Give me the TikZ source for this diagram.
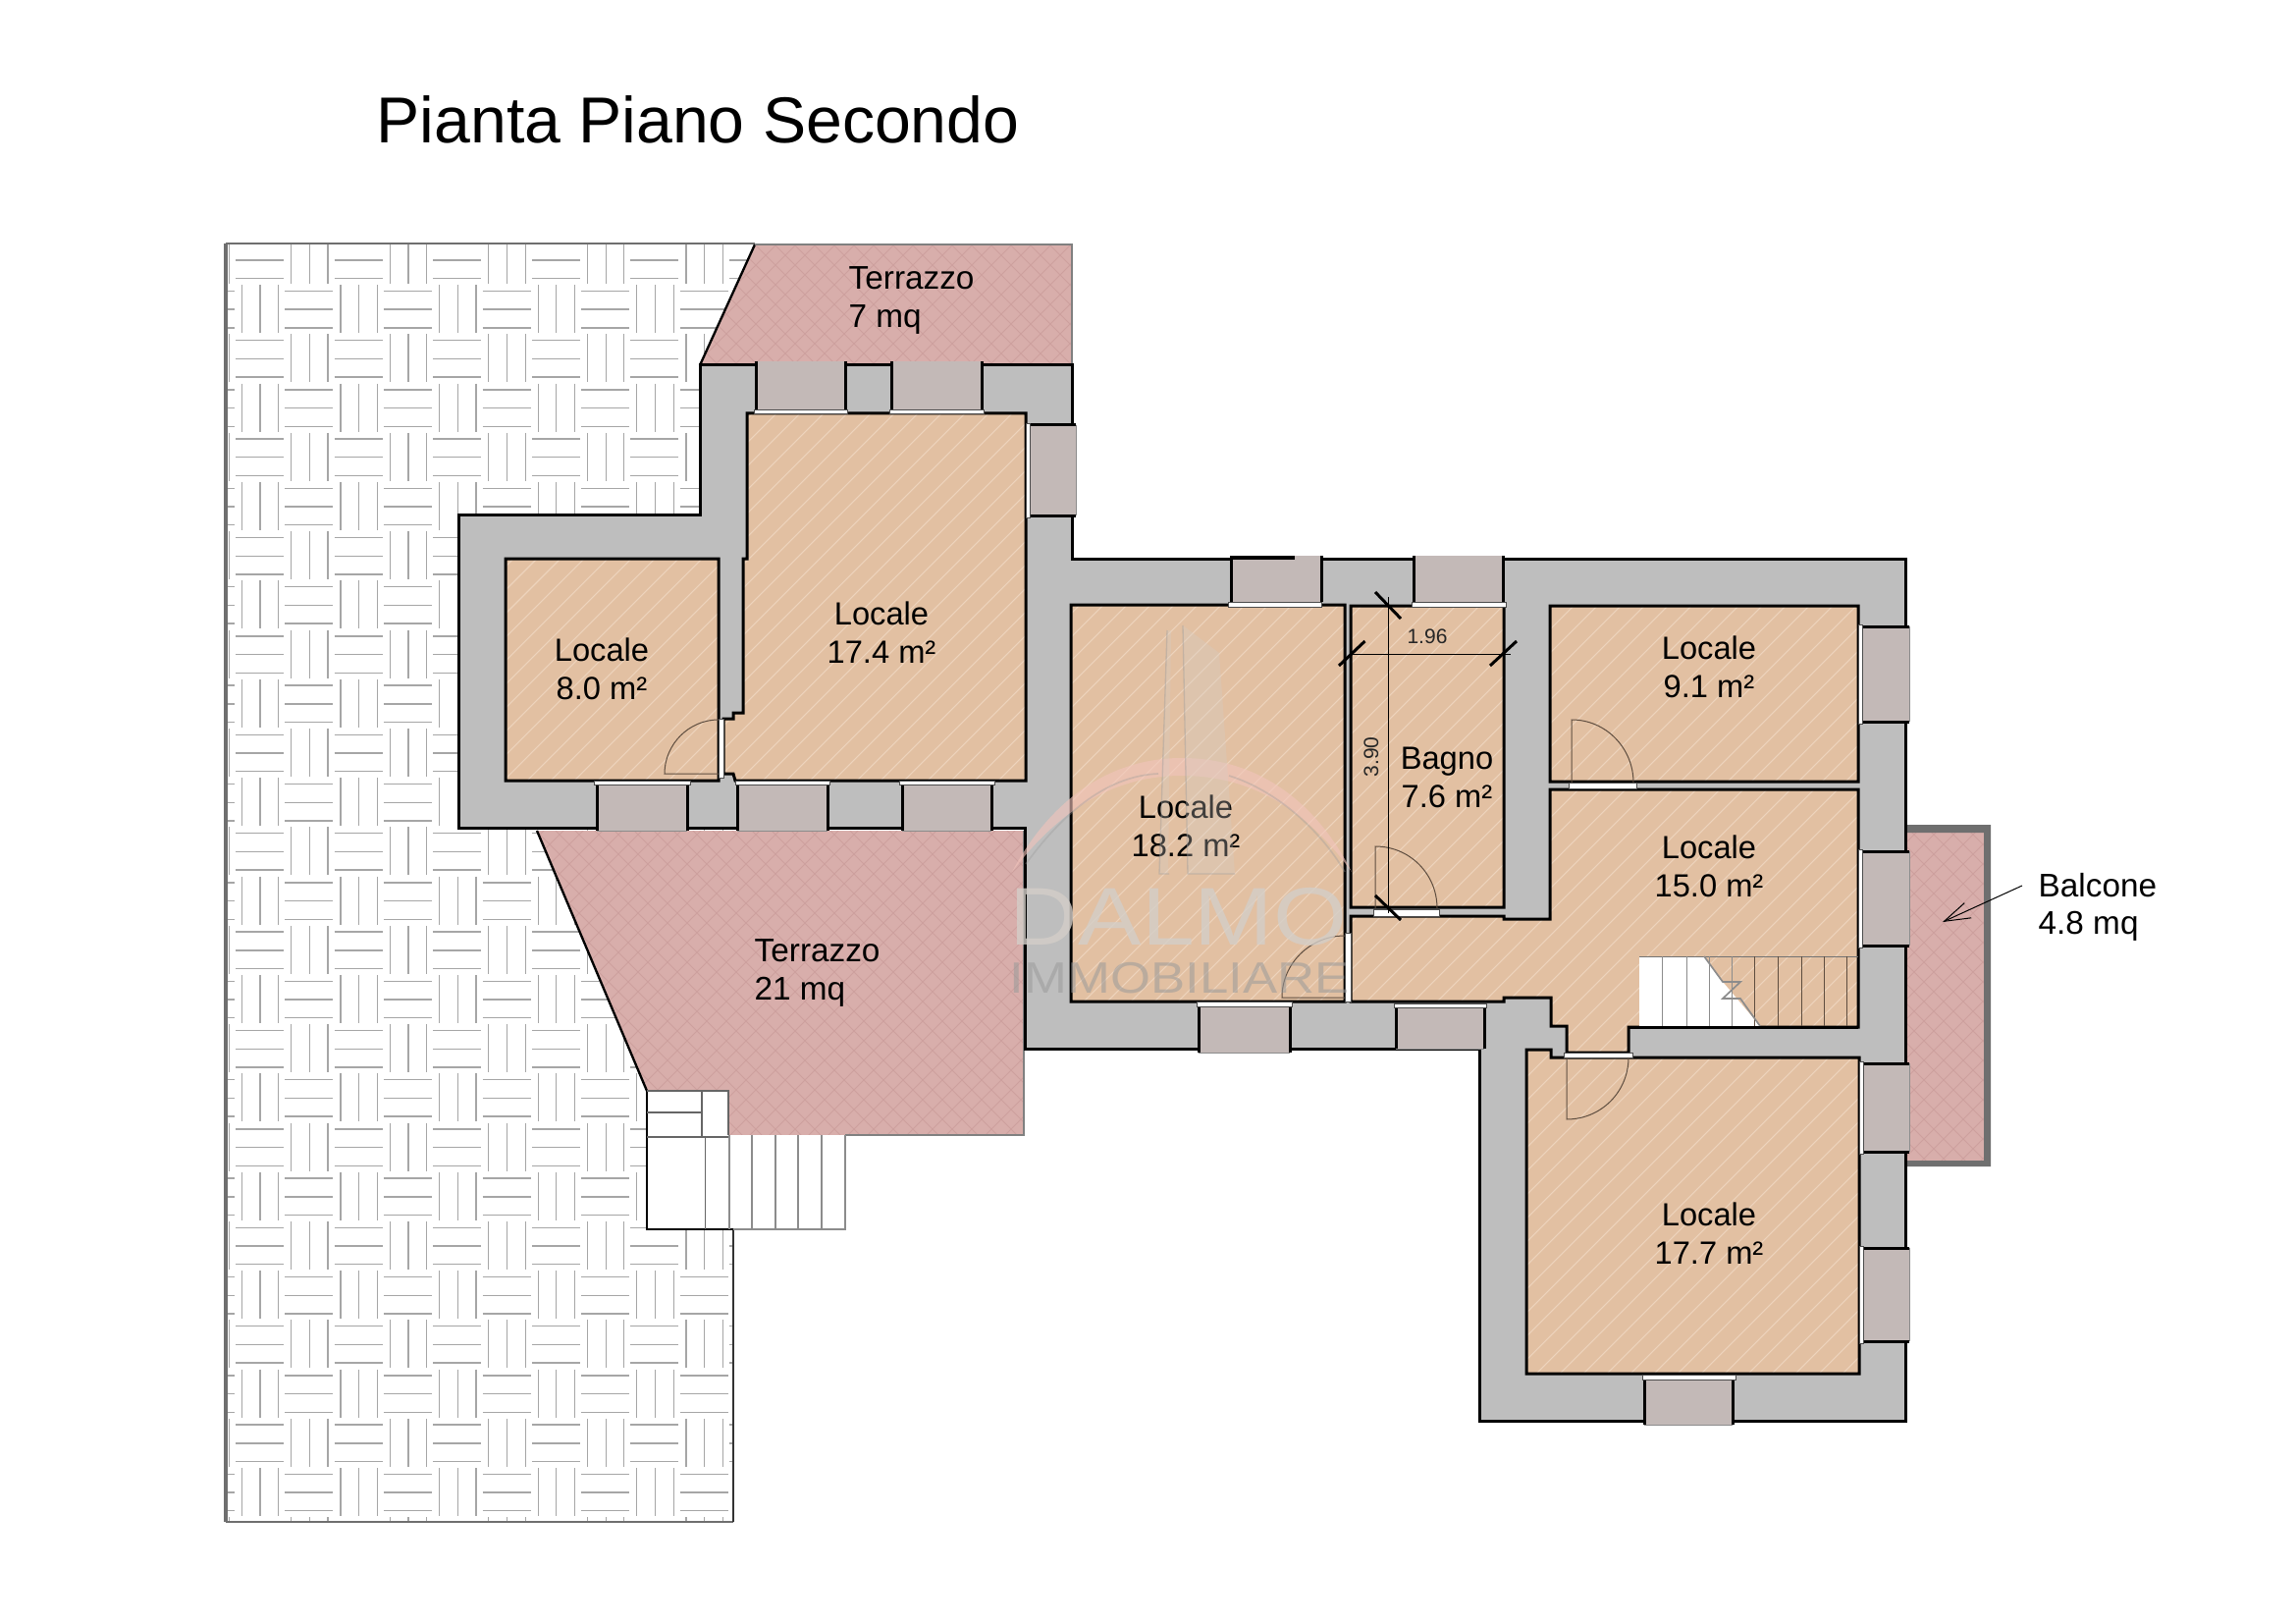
\documentclass[tikz,border=0pt]{standalone}
\usepackage{fontspec}
\setmainfont{Liberation Sans}
\usetikzlibrary{arrows.meta}
\definecolor{wallc}{HTML}{BEBEBE}
\definecolor{winc}{HTML}{C3B9B7}
\definecolor{roomc}{HTML}{E2C0A2}
\definecolor{hatchc}{HTML}{EDD3BC}
\definecolor{terrc}{HTML}{D8AEAB}
\definecolor{terrh}{HTML}{CDA09E}
\definecolor{balc}{HTML}{6F6F6F}
\definecolor{pavec}{HTML}{A6A6A6}
\definecolor{doorc}{HTML}{5E4D3F}
\definecolor{wmpink}{HTML}{F2C4BB}
\definecolor{wmgrey}{HTML}{9A9A9A}
\definecolor{wmlight}{HTML}{D4CEC8}
\tikzset{
  blk/.style={draw=black,line width=0.9pt,line join=miter},
  thinline/.style={draw=#1,line width=0.25pt},
  doorline/.style={draw=doorc,line width=0.3pt},
  tick/.style={draw=black,line width=0.9pt},
  dimline/.style={draw=black,line width=0.22pt},
  room/.style={font=\fontsize{9.8}{11.6}\selectfont,align=center,inner sep=0pt,text=black},
  roomleft/.style={font=\fontsize{10}{11.6}\selectfont,align=left,anchor=west,inner sep=0pt,text=black},
  dimtext/.style={font=\fontsize{6.3}{7}\selectfont,inner sep=0pt,text=black!85},
}
% windows: horizontal wall (sides black), vertical wall (top and bottom black)
\newcommand{\winH}[4]{%
  \fill[winc] (#1,#2) rectangle (#3,#4);
  \draw[thinline=black!45] (#1,#4) -- (#3,#4);
  \draw[blk] (#1,#2) -- (#1,#4) (#3,#2) -- (#3,#4);}
\newcommand{\winV}[4]{%
  \fill[winc] (#1,#2) rectangle (#3,#4);
  \draw[thinline=black!45] (#3,#2) -- (#3,#4);
  \draw[blk] (#1,#2) -- (#3,#2) (#1,#4) -- (#3,#4);}
\newcommand{\stripe}[4]{\filldraw[fill=white,draw=black!70,line width=0.25pt] (#1,#2) rectangle (#3,#4);}
\newcommand{\roomsPath}{%
  (515,569) rectangle (732,795)
  (761,421) -- (1045,421) -- (1045,795) -- (749,795) -- (747,788) -- (737,788) -- (737,732) -- (747,732) -- (747,726) -- (757,726) -- (757,569) -- (761,569) -- cycle
  (1091,616) rectangle (1370,1020)
  (1376,617) rectangle (1532,924)
  (1579,617) rectangle (1893,796)
  (1376,933) -- (1532,933) -- (1532,936) -- (1579,936) -- (1579,804) -- (1893,804) -- (1893,1046) -- (1659,1046) -- (1659,1072) -- (1596,1072) -- (1596,1045) -- (1580,1045) -- (1580,1016) -- (1532,1016) -- (1532,1020) -- (1376,1020) -- cycle
  (1555,1069) -- (1580,1069) -- (1580,1077) -- (1894,1077) -- (1894,1399) -- (1555,1399) -- cycle}
\newcommand{\terrPath}{%
  (769,249) -- (1092,249) -- (1092,372) -- (713,372) -- cycle
  (547,846) -- (1043,846) -- (1043,1156) -- (742,1156) -- (742,1111) -- (659,1111) -- cycle
  (1942,848) rectangle (2021,1182)}
\begin{document}
\begin{tikzpicture}[x=0.3pt,y=-0.3pt]
\useasboundingbox (0,0) rectangle (2339,1654);
\fill[white] (0,0) rectangle (2339,1654);

% paving
\begin{scope}
  \clip (230,248) -- (769,248) -- (747,300) -- (747,1550) -- (230,1550) -- cycle;
  \foreach \i in {-1,...,10} {
    \foreach \j in {0,...,26} {
      \pgfmathtruncatemacro{\parity}{mod(\i+\j+100,2)}
      \pgfmathsetmacro{\cx}{265+50.3*\i}
      \pgfmathsetmacro{\cy}{265+50.2*\j}
      \ifnum\parity=0
        \foreach \off in {-18.7,0,18.7}
          \draw[pavec,line width=0.42pt] (\cx-25,\cy+\off) -- (\cx+24,\cy+\off);
      \else
        \foreach \off in {-18.7,0,18.7}
          \draw[pavec,line width=0.36pt] (\cx+\off,\cy-25) -- (\cx+\off,\cy+24);
      \fi
    }
  }
\end{scope}
\draw[draw=balc,line width=1.1pt] (230,1550) -- (230,248);
\draw[draw=balc,line width=0.45pt] (230,248) -- (769,248);
\draw[draw=balc,line width=0.5pt] (230,1550) -- (747,1550);
\draw[draw=black!80,line width=0.6pt] (747,1252) -- (747,1550);

% terraces
\fill[terrc] \terrPath;
\begin{scope}
  \clip \terrPath;
  \foreach \k in {900,920,...,3300} {
    \draw[terrh,line width=0.22pt] (\k,0) -- (\k-1300,1300);
    \draw[terrh,line width=0.22pt] (\k-1800,0) -- (\k-500,1300);
  }
\end{scope}
\draw[black,line width=0.7pt] (769,249) -- (713,372);
\draw[black!50,line width=0.4pt] (769,249) -- (1092,249) -- (1092,372);
\draw[black,line width=0.7pt] (547,846) -- (659,1111);
\draw[black!50,line width=0.35pt] (1043,846) -- (1043,1156) -- (861,1156);

% exterior stair
\fill[white] (659,1111) -- (742,1111) -- (742,1156) -- (861,1156) -- (861,1252) -- (659,1252) -- cycle;
\draw[black,line width=0.6pt] (659,1111) -- (659,1252) -- (747,1252);
\draw[black!45,line width=0.45pt] (747,1252) -- (861,1252) -- (861,1156);
\draw[black!60,line width=0.4pt] (659,1111) -- (742,1111) -- (742,1156);
\draw[black!60,line width=0.4pt] (659,1133) -- (715,1133) (659,1158) -- (742,1158) (715,1111) -- (715,1158) (718.5,1158) -- (718.5,1252);
\foreach \v in {743,766,790,813,837}
  \draw[black!45,line width=0.35pt] (\v,1156) -- (\v,1252);

% balcony
\fill[balc] (1942,840) -- (2028,840) -- (2028,1188) -- (1942,1188) -- (1942,1182) -- (2021,1182) -- (2021,848) -- (1942,848) -- cycle;

% building
\filldraw[fill=wallc,blk] (713,372) -- (1092,372) -- (1092,569) -- (1941,569) -- (1941,1447) -- (1507.5,1447) -- (1507.5,1068) -- (1044,1068) -- (1044,843) -- (467,843) -- (467,524) -- (713,524) -- cycle;

% rooms
\fill[roomc] \roomsPath;
\begin{scope}
  \clip \roomsPath;
  \foreach \k in {500,524,...,3100}
    \draw[hatchc,line width=0.32pt] (\k,400) -- (\k-1000,1400);
\end{scope}
\draw[blk] \roomsPath;

% interior stair
\fill[white] (1670,974) -- (1736,974) -- (1755,1000) -- (1793,1045) -- (1670,1045) -- cycle;
\draw[black!55,line width=0.3pt] (1670,974) -- (1893,974);
\foreach \v in {1693,1718,1741,1764}
  \draw[black!45,line width=0.3pt] (\v,974) -- (\v,1045);
\foreach \v in {1787,1811,1835,1858,1881}
  \draw[doorc,line width=0.3pt] (\v,974) -- (\v,1045);
\draw[black!45,line width=0.5pt] (1736,974) -- (1755,1000) -- (1773,1000) -- (1755,1017) -- (1773,1017) -- (1793,1045);
\draw[blk] (1659,1046) -- (1893,1046);

% windows
\winH{770}{368}{861}{418}
\winH{908}{368}{1000}{418}
\stripe{768}{417}{863}{421}
\stripe{906}{417}{1002}{421}
\winV{1048}{433}{1096}{525}
\stripe{1045}{431}{1049}{527}
\winH{608}{797}{700}{846}
\winH{751}{797}{843}{846}
\winH{919}{797}{1010}{846}
\stripe{605}{795}{703}{799}
\stripe{749}{795}{845}{799}
\stripe{916}{795}{1013}{799}
\winH{1254}{566}{1346}{613}
\winH{1440}{566}{1531}{613}
\stripe{1251}{613}{1346}{618}
\stripe{1438}{613}{1534}{618}
\draw[black,line width=1.3pt] (1254,568) -- (1319,568);
\winH{1221}{1022}{1314}{1072}
\winH{1422}{1024}{1512}{1068}
\stripe{1219}{1020}{1316}{1025}
\stripe{1420}{1022}{1514}{1026}
\winV{1897}{638}{1945}{735}
\winV{1897}{867}{1945}{963}
\winV{1897}{1083}{1945}{1173}
\winV{1897}{1271}{1945}{1366}
\stripe{1893}{636}{1897}{737}
\stripe{1893}{865}{1897}{965}
\stripe{1894}{1081}{1898}{1175}
\stripe{1894}{1269}{1898}{1368}
\winH{1675}{1403}{1765}{1451}
\stripe{1673}{1400}{1768}{1405}

% door stripes
\stripe{732}{732}{737}{792}
\stripe{1370}{950}{1376}{1020}
\stripe{1399}{926}{1466}{933}
\stripe{1598}{797}{1667}{803}
\stripe{1593}{1072}{1663}{1077}

% door leaves
\draw[doorline] (732,788) -- (677,788) .. controls (677,758) and (702,733) .. (732,733);
\draw[doorline] (1401,925) -- (1401,862) .. controls (1436,862) and (1464,890) .. (1464,925);
\draw[doorline] (1370,1016) -- (1306,1016) .. controls (1306,981) and (1335,953) .. (1370,953);
\draw[doorline] (1601,797) -- (1601,733) .. controls (1636,733) and (1664,762) .. (1664,797);
\draw[doorline] (1596,1077) -- (1596,1140) .. controls (1631,1140) and (1659,1112) .. (1659,1077);

% dimensions
\draw[dimline] (1414,608) -- (1414,930);
\draw[dimline] (1376,666) -- (1539,666);
\draw[tick] (1401,603) -- (1427,630);
\draw[tick] (1401,912) -- (1427,937);
\draw[tick] (1364,678) -- (1390.5,653);
\draw[tick] (1518,678) -- (1545,653);
\node[dimtext] (dimw) at (1454,648) {1.96};
\node[dimtext,rotate=90] (dimh) at (1397,771) {3.90};

% labels
\node[font=\fontsize{19.85}{24}\selectfont,anchor=west,inner sep=0pt] (title) at (383,122) {Pianta Piano Secondo};
\node[roomleft] (t7) at (864,306) {Terrazzo\\7 mq};
\node[roomleft] (t21) at (768,991) {Terrazzo\\21 mq};
\node[room] (l174) at (898,644) {Locale\\17.4 m²};
\node[room] (l80) at (613,681) {Locale\\8.0 m²};
\node[room] (l182) at (1208,841) {Locale\\18.2 m²};
\node[room] (bag) at (1474,792) {Bagno\\7.6 m²};
\node[room] (l91) at (1741,679) {Locale\\9.1 m²};
\node[room] (l150) at (1741,882) {Locale\\15.0 m²};
\node[room] (l177) at (1741,1256) {Locale\\17.7 m²};
\node[roomleft] (bal) at (2076,924) {Balcone\\4.8 mq};
\coordinate (balfoot) at (2060,902);
\coordinate (baltip) at (1979,939);
\draw[black,line width=0.3pt,-{Straight Barb[length=8pt,width=5pt,line width=0.3pt]}] (balfoot) -- (baltip);

% watermark
\fill[wmpink,opacity=.6] (1031,888) .. controls (1070,815) and (1130,772) .. (1204,772) .. controls (1280,772) and (1340,815) .. (1377,888) .. controls (1335,830) and (1280,790) .. (1204,790) .. controls (1130,790) and (1075,830) .. (1031,888) -- cycle;
\draw[wmgrey,opacity=.35,line width=0.5pt] (1045,880) .. controls (1085,825) and (1130,790) .. (1180,788) (1252,790) .. controls (1300,805) and (1345,845) .. (1370,888);
\fill[wmlight,opacity=.3] (1205,637) -- (1242,665) -- (1258,890) -- (1210,890) -- cycle;
\fill[wmlight,opacity=.3] (1189,642) -- (1193,642) -- (1190,890) -- (1181,890) -- cycle;
\draw[wmgrey,opacity=.4,line width=0.4pt] (1205,637) -- (1210,890) -- (1258,890) (1189,642) -- (1181,890) -- (1191,890);
\node[font=\fontsize{25}{30}\selectfont,inner sep=0pt,text=wmlight,text opacity=.8,xscale=1.16,anchor=west] (wmd) at (1028,934) {DALMO};
\node[font=\fontsize{13.4}{15}\selectfont,inner sep=0pt,text=wmgrey,text opacity=.55,xscale=1.18,anchor=west] (wmi) at (1028,996) {IMMOBILIARE};
\end{tikzpicture}
\end{document}
